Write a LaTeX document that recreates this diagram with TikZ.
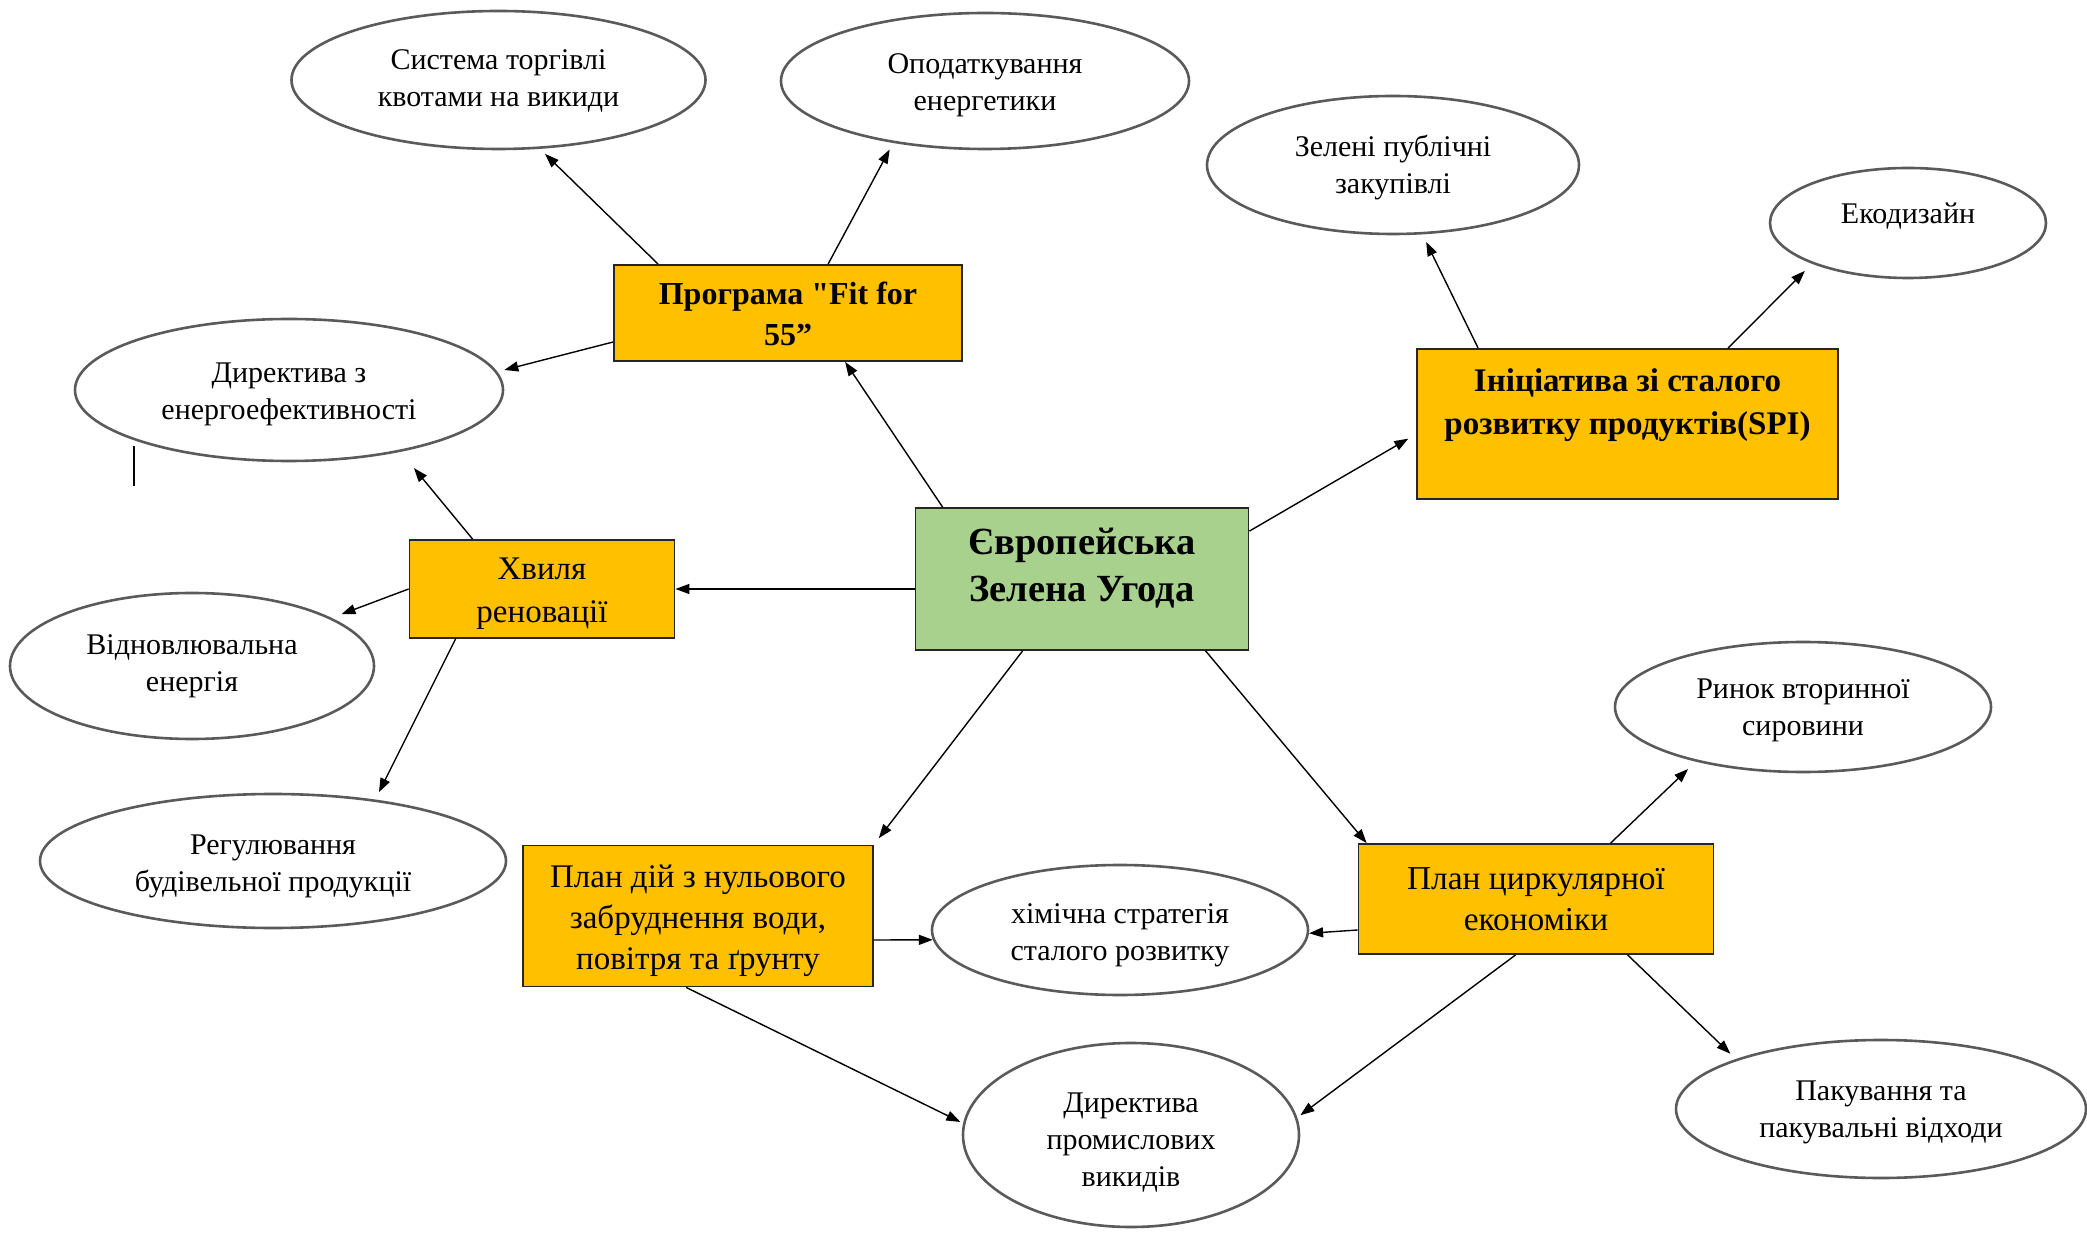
\documentclass[tikz,border=0pt]{standalone}
\usepackage{fontspec}
\setmainfont{Liberation Serif}
\newfontfamily\plainqt{Liberation Serif}
\usetikzlibrary{arrows.meta,calc,shapes.geometric}
\definecolor{boxorange}{HTML}{FFC000}
\definecolor{boxgreen}{HTML}{A9D18E}
\definecolor{ellline}{HTML}{5A5A5A}
\begin{document}
\begin{tikzpicture}[x=0.5pt,y=-0.5pt,
  ell/.style={ellipse,draw=ellline,line width=1.3pt,inner sep=0pt},
  elltext/.style={align=center,font=\fontsize{15pt}{18.5pt}\selectfont},
  obox/.style={rectangle,draw=black!85,line width=0.9pt,fill=boxorange,inner sep=0pt},
  gbox/.style={rectangle,draw=black!85,line width=0.9pt,fill=boxgreen,inner sep=0pt},
  btext/.style={align=center,font=\fontsize{16.5pt}{20.5pt}\selectfont},
  arr/.style={-{Triangle[length=7pt,width=5pt]},line width=0.7pt,black}]
\useasboundingbox (0,0) rectangle (2087,1234);

% boxes
\node[gbox,minimum width=166.5pt,minimum height=71pt,
  label={[align=center,font=\fontsize{19.2pt}{23.5pt}\selectfont\bfseries,yshift=5.5pt]center:Європейська\\Зелена Угода}] (eu) at (1082,579) {};
\node[obox,minimum width=174pt,minimum height=48pt,
  label={[align=center,font=\fontsize{16pt}{20.5pt}\selectfont\bfseries,yshift=-0.5pt]center:Програма {\plainqt\bfseries "}Fit for\\55”}] (fit) at (788,313) {};
\node[obox,minimum width=210.5pt,minimum height=75pt,
  label={[align=center,font=\fontsize{16.5pt}{21.5pt}\selectfont\bfseries,yshift=9.5pt]center:Ініціатива зі сталого\\розвитку продуктів(SPI)}] (spi) at (1627.5,424) {};
\node[obox,minimum width=132.5pt,minimum height=49pt,
  label={[btext,font=\fontsize{16.5pt}{21.5pt}\selectfont,yshift=-2.5pt]center:Хвиля\\реновації}] (hv) at (542,589) {};
\node[obox,minimum width=175pt,minimum height=70.5pt,
  label={[btext,yshift=-2.5pt]center:План дій з нульового\\забруднення води,\\повітря та ґрунту}] (pd) at (698,916) {};
\node[obox,minimum width=177.5pt,minimum height=55pt,
  label={[btext,font=\fontsize{16.7pt}{20.5pt}\selectfont,yshift=0pt]center:План циркулярної\\економіки}] (pc) at (1536,899) {};

% ellipses
\node[ell,minimum width=207pt,minimum height=69pt,
  label={[elltext,yshift=-0.5pt]center:Система торгівлі\\квотами на викиди}] (e1) at (498.5,80) {};
\node[ell,minimum width=204pt,minimum height=68pt,
  label={[elltext,yshift=-2pt]center:Оподаткування\\енергетики}] (e2) at (985,81) {};
\node[ell,minimum width=214pt,minimum height=71pt,
  label={[elltext,yshift=-2pt]center:Директива з\\енергоефективності}] (e3) at (289,390) {};
\node[ell,minimum width=186pt,minimum height=69pt,
  label={[elltext,yshift=-1.3pt]center:Зелені публічні\\закупівлі}] (e4) at (1393,165) {};
\node[ell,minimum width=138pt,minimum height=55pt,
  label={[elltext,yshift=3.3pt]center:Екодизайн}] (e5) at (1908,223) {};
\node[ell,minimum width=182pt,minimum height=73pt,
  label={[elltext]center:Відновлювальна\\енергія}] (e6) at (192,666) {};
\node[ell,minimum width=233pt,minimum height=67pt,
  label={[elltext,yshift=-2.5pt]center:Регулювання\\будівельної продукції}] (e7) at (273,861) {};
\node[ell,minimum width=188pt,minimum height=65pt,
  label={[elltext,yshift=-2.5pt]center:хімічна стратегія\\сталого розвитку}] (e8) at (1120,930) {};
\node[ell,minimum width=188pt,minimum height=65pt,
  label={[elltext,yshift=-1.5pt]center:Ринок вторинної\\сировини}] (e9) at (1803,707) {};
\node[ell,minimum width=168pt,minimum height=92pt,
  label={[elltext,yshift=-4pt]center:Директива\\промислових\\викидів}] (e10) at (1131,1135) {};
\node[ell,minimum width=205pt,minimum height=69pt,
  label={[elltext,yshift=-1.5pt]center:Пакування та\\пакувальні відходи}] (e11) at (1881,1109) {};

% stray line
\coordinate (s1) at (134,446);
\coordinate (s2) at (134,486);
\draw[line width=0.6pt] (s1) -- (s2);

% connectors
\draw[arr,shorten >=3.6pt] ($(fit.north west)+(45,0)$) -- (e1.-59.5);
\draw[arr,shorten >=3.7pt] ($(fit.north west)+(215,0)$) -- (e2.-146.2);
\draw[arr,shorten >=3.6pt] ($(fit.west)+(0,29)$) -- (e3.5.1);
\draw[arr] ($(eu.north west)+(28,0)$) -- ($(fit.south west)+(232,0)$);
\draw[arr,shorten >=4.5pt] ($(eu.north east)+(0,24)$) -- ($(spi.north west)+(0,86)$);
\draw[arr,shorten >=4.2pt] ($(spi.north west)+(62,0)$) -- (e4.-67.8);
\draw[arr,shorten >=5pt] ($(spi.north west)+(312,0)$) -- (e5.-157.9);
\draw[arr] (eu.west |- hv.east) -- (hv.east);
\draw[arr,shorten >=10.5pt] ($(hv.north west)+(64,0)$) -- (e3.-29.7);
\draw[arr,shorten >=5.2pt] (hv.west) -- (e6.19.6);
\draw[arr,shorten >=4.1pt] ($(hv.south west)+(47,0)$) -- (e7.31.5);
\draw[arr,shorten >=4pt] ($(eu.south west)+(108,0)$) -- (pd.north east);
\draw[arr] ($(eu.south west)+(291,0)$) -- ($(pc.north west)+(9,0)$);
\draw[arr] ($(pd.east)+(0,24)$) -- (e8.183);
\draw[arr,shorten >=1.5pt] ($(pd.south west)+(164,0)$) -- (e10.176.6);
\draw[arr] ($(pc.west)+(0,31)$) -- (e8.-1.8);
\draw[arr,shorten >=5.3pt] ($(pc.north west)+(253,0)$) -- (e9.-153.6);
\draw[arr,shorten >=1.9pt] ($(pc.south west)+(158,0)$) -- (e10.6.8);
\draw[arr,shorten >=3.8pt] ($(pc.south west)+(270,0)$) -- (e11.161.6);
\end{tikzpicture}
\end{document}
